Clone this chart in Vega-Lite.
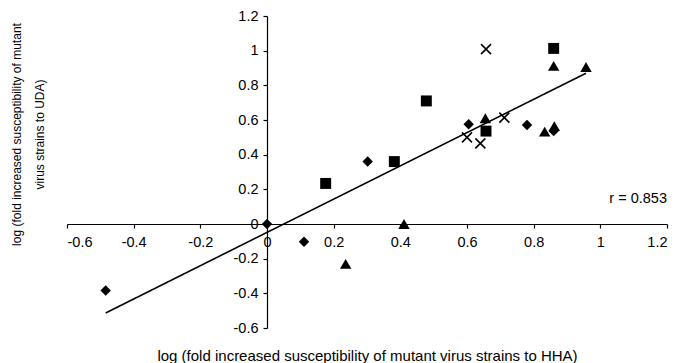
{
  "$schema": "https://vega.github.io/schema/vega-lite/v6.json",
  "width": 600,
  "height": 312,
  "autosize": "none",
  "padding": {"left": 67, "top": 16, "right": 11, "bottom": 35},
  "background": "white",
  "config": {
    "view": {"stroke": null},
    "font": "Liberation Sans",
    "axis": {
      "grid": false,
      "domainColor": "black",
      "tickColor": "black",
      "labelColor": "black",
      "titleColor": "black",
      "labelFont": "Liberation Sans",
      "titleFont": "Liberation Sans",
      "labelFontSize": 14.5,
      "titleFontWeight": "normal",
      "tickSize": 4,
      "domainWidth": 1.2,
      "tickWidth": 1.2
    }
  },
  "datasets": {
    "pts": [
      {"hha": -0.484, "uda": -0.384, "series": "A"},
      {"hha": 0.0, "uda": 0.0, "series": "A"},
      {"hha": 0.111, "uda": -0.103, "series": "A"},
      {"hha": 0.302, "uda": 0.36, "series": "A"},
      {"hha": 0.605, "uda": 0.575, "series": "A"},
      {"hha": 0.78, "uda": 0.571, "series": "A"},
      {"hha": 0.86, "uda": 0.536, "series": "A"},
      {"hha": 0.176, "uda": 0.234, "series": "B"},
      {"hha": 0.382, "uda": 0.36, "series": "B"},
      {"hha": 0.478, "uda": 0.71, "series": "B"},
      {"hha": 0.657, "uda": 0.536, "series": "B"},
      {"hha": 0.86, "uda": 1.013, "series": "B"},
      {"hha": 0.236, "uda": -0.23, "series": "C"},
      {"hha": 0.411, "uda": 0.0, "series": "C"},
      {"hha": 0.655, "uda": 0.61, "series": "C"},
      {"hha": 0.833, "uda": 0.533, "series": "C"},
      {"hha": 0.862, "uda": 0.565, "series": "C"},
      {"hha": 0.86, "uda": 0.912, "series": "C"},
      {"hha": 0.957, "uda": 0.906, "series": "C"},
      {"hha": 0.6, "uda": 0.5, "series": "D"},
      {"hha": 0.64, "uda": 0.465, "series": "D"},
      {"hha": 0.657, "uda": 1.009, "series": "D"},
      {"hha": 0.712, "uda": 0.614, "series": "D"}
    ],
    "trend": [
      {"hha": -0.484, "uda": -0.513},
      {"hha": 0.957, "uda": 0.87}
    ],
    "note": [
      {"hha": 1.2, "uda": 0.147, "label": "r = 0.853"}
    ]
  },
  "encoding": {
    "x": {
      "field": "hha", "type": "quantitative",
      "scale": {"domain": [-0.6, 1.2], "nice": false, "zero": false},
      "axis": {
        "values": [-0.6, -0.4, -0.2, 0, 0.2, 0.4, 0.6, 0.8, 1, 1.2],
        "format": "~g",
        "labelExpr": "replace(datum.label, '\u2212', '-')",
        "labelOverlap": false,
        "offset": -104,
        "labelPadding": 7,
        "labelBaseline": "top",
        "title": "log (fold increased susceptibility of mutant virus strains to HHA)",
        "titleFontSize": 15,
        "titleBaseline": "middle",
        "titleY": 131
      }
    },
    "y": {
      "field": "uda", "type": "quantitative",
      "scale": {"domain": [-0.6, 1.2], "nice": false, "zero": false},
      "axis": {
        "values": [-0.6, -0.4, -0.2, 0, 0.2, 0.4, 0.6, 0.8, 1, 1.2],
        "format": "~g",
        "labelExpr": "replace(datum.label, '\u2212', '-')",
        "labelOverlap": false,
        "labelBaseline": "middle",
        "offset": -200,
        "labelPadding": 5,
        "title": ["log (fold increased susceptibility of mutant", "virus strains to UDA)"],
        "titleFontSize": 12,
        "titleLineHeight": 23,
        "titleAngle": -90,
        "titleAlign": "center",
        "titleBaseline": "middle",
        "titleX": -251,
        "titleY": 118
      }
    }
  },
  "layer": [
    {
      "data": {"name": "trend"},
      "mark": {"type": "line", "color": "black", "strokeWidth": 1.6}
    },
    {
      "data": {"name": "pts"},
      "transform": [{"filter": "datum.series != 'D'"}],
      "mark": {"type": "point", "filled": true, "opacity": 1, "color": "black"},
      "encoding": {
        "shape": {
          "field": "series", "type": "nominal",
          "scale": {"domain": ["A", "B", "C"], "range": ["diamond", "square", "triangle-up"]},
          "legend": null
        },
        "size": {
          "field": "series", "type": "nominal",
          "scale": {"domain": ["A", "B", "C"], "range": [110, 130, 120]},
          "legend": null
        }
      }
    },
    {
      "data": {"name": "pts"},
      "transform": [{"filter": "datum.series == 'D'"}],
      "mark": {"type": "point", "filled": false, "opacity": 1, "color": "black", "strokeWidth": 1.6, "shape": "M-1,-1L1,1M-1,1L1,-1", "size": 100}
    },
    {
      "data": {"name": "note"},
      "mark": {"type": "text", "align": "right", "baseline": "middle", "fontSize": 14.5, "font": "Liberation Sans", "color": "black"},
      "encoding": {
        "text": {"field": "label"}
      }
    }
  ]
}
